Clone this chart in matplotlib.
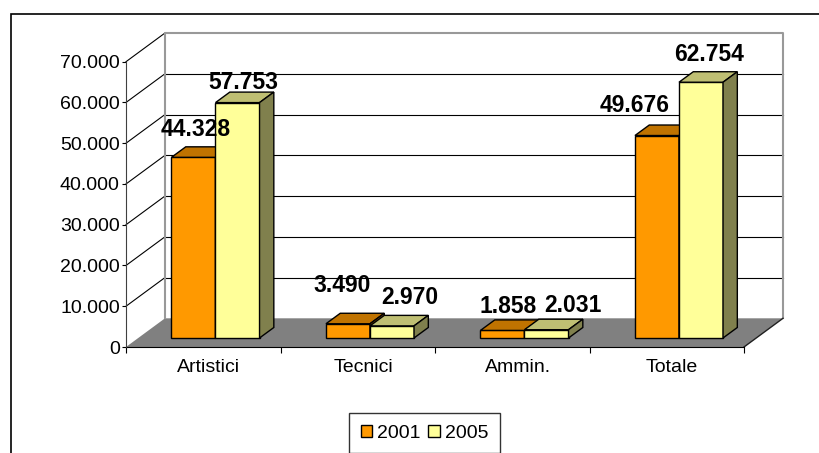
import numpy as np
import matplotlib
matplotlib.use("Agg")
import matplotlib.pyplot as plt
from matplotlib.patches import Polygon, Rectangle, Patch

# data
categories = ["Artistici", "Tecnici", "Ammin.", "Totale"]
years = ["2001", "2005"]
val_2001 = [44328, 3490, 1858, 49676]
val_2005 = [57753, 2970, 2031, 62754]
y_ticks = [0, 10000, 20000, 30000, 40000, 50000, 60000, 70000]

# label nudges in pixels (dx, dy) so they sit like the original
lab_off_2001 = [(2, 21), (-6, 32), (6, 17), (-22, 24)]
lab_off_2005 = [(6, 14), (18, 22), (26, 18), (8, 21)]

W, H = 819, 453
plt.rcParams['font.family'] = ['Liberation Sans', 'DejaVu Sans']

fig = plt.figure(figsize=(W / 100, H / 100), dpi=100)
ax = fig.add_axes([126 / W, (H - 347) / H, (744 - 126) / W, (347 - 61.7) / H])
ax.set_xlim(0, len(categories))
ax.set_ylim(0, y_ticks[-1])

# fake 3d depth, in data units
DX = 39 / 154.5
DY = 28.7 / (285.3 / 70000)
f0 = 0.314            # depth where the bar front sits
BX = 14.3 / 154.5     # bar depth
BY = 10.5 / (285.3 / 70000)
bw = 0.285
z0 = f0 * DY
n = len(categories)
top = y_ticks[-1]

# floor
ax.add_patch(Polygon([(0, 0), (n, 0), (n + DX, DY), (DX, DY)], closed=True,
                     facecolor="#808080", edgecolor="none", zorder=1, clip_on=False))
ax.plot([n, n + DX], [0, DY], color="#202020", lw=1, zorder=2, clip_on=False)

# walls
for v in y_ticks[1:]:
    ax.plot([0, DX], [v, v + DY], color="black", lw=0.8, zorder=1, clip_on=False)
for v in y_ticks[1:-1]:
    ax.plot([DX, n + DX], [v + DY, v + DY], color="black", lw=0.8, zorder=1, clip_on=False)
ax.plot([DX, DX, n + DX, n + DX], [DY, top + DY, top + DY, DY],
        color="#999999", lw=1.5, zorder=1, clip_on=False)


def draw_bars(xc, vals, front, topc, side, offs):
    xl = xc - bw / 2 + f0 * DX
    ax.bar(xl, vals, width=bw, bottom=z0, align="edge", color=front,
           edgecolor="black", linewidth=1, zorder=3, clip_on=False)
    for x, v, (ox, oy) in zip(xl, vals, offs):
        yt = v + z0
        ax.add_patch(Polygon([(x, yt), (x + bw, yt), (x + bw + BX, yt + BY), (x + BX, yt + BY)],
                             closed=True, facecolor=topc, edgecolor="black", lw=1,
                             zorder=3, clip_on=False))
        ax.add_patch(Polygon([(x + bw, z0), (x + bw + BX, z0 + BY), (x + bw + BX, yt + BY), (x + bw, yt)],
                             closed=True, facecolor=side, edgecolor="black", lw=1,
                             zorder=3, clip_on=False))
        ax.annotate(f"{v:,}".replace(",", "."), (x + bw / 2, yt), xytext=(ox, oy),
                    textcoords="offset pixels", ha="center", va="baseline",
                    fontsize=16.5, fontweight="bold", zorder=5, annotation_clip=False)


pos = np.arange(n) + 0.5
for i in range(n):
    draw_bars(pos[i:i + 1] - bw / 2, val_2001[i:i + 1], "#FF9900", "#C07300", "#804C00", lab_off_2001[i:i + 1])
    draw_bars(pos[i:i + 1] + bw / 2, val_2005[i:i + 1], "#FFFF99", "#BFBF73", "#80804D", lab_off_2005[i:i + 1])

# axes styling
for s in ["top", "right"]:
    ax.spines[s].set_visible(False)
ax.spines["left"].set_color("#404040")
ax.spines["bottom"].set_color("black")
ax.spines["bottom"].set_zorder(2)
ax.set_yticks(y_ticks)
ax.set_yticklabels([f"{v:,}".replace(",", ".") for v in y_ticks], fontsize=14)
ax.tick_params(axis="y", direction="out", length=3, pad=1.5)
ax.set_xticks(np.arange(n + 1))
ax.set_xticklabels([])
ax.set_xticks(pos + 0.035, minor=True)
ax.set_xticklabels(categories, minor=True, fontsize=14)
ax.tick_params(axis="x", which="major", direction="out", length=4)
ax.tick_params(axis="x", which="minor", length=0, pad=9)
ax.patch.set_visible(False)

# legend
handles = [Patch(facecolor=c, edgecolor="black", lw=1) for c in ["#FF9900", "#FFFF99"]]
leg = fig.legend(handles, years, loc="upper left", bbox_to_anchor=(349 / W, 1 - 413 / H),
                 ncol=2, fontsize=14, frameon=True, fancybox=False, handlelength=0.6,
                 handleheight=0.6, handletextpad=0.25, columnspacing=0.4, borderpad=0.6,
                 borderaxespad=0)
leg.get_frame().set_edgecolor("black")
leg.get_frame().set_linewidth(1)

# chart area border (runs off the picture on the right and bottom)
fig.add_artist(Rectangle((11 / W, -0.5), 2, 1.5 - 14 / H, transform=fig.transFigure,
                         fill=False, edgecolor="black", lw=1.2, clip_on=False))

fig.savefig("out.png", dpi=100)
